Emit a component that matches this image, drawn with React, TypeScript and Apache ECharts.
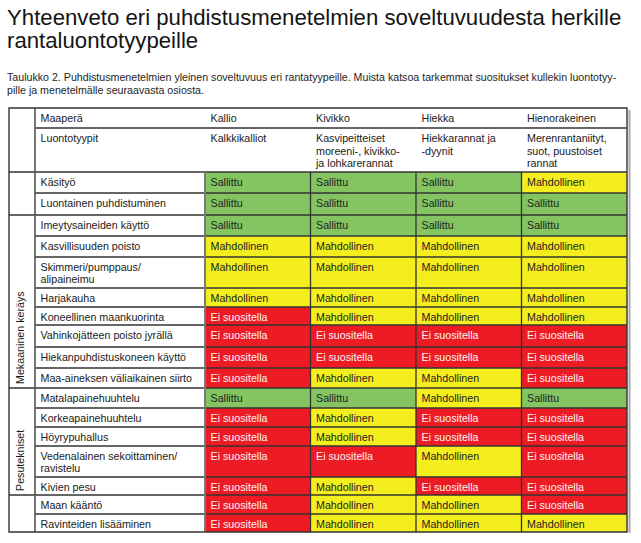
import React, { useEffect, useRef } from 'react';
import * as echarts from 'echarts';

// ---------- Data ----------
const titleLines = [
  'Yhteenveto eri puhdistusmenetelmien soveltuvuudesta herkille',
  'rantaluontotyypeille',
];
const captionLines = [
  'Taulukko 2. Puhdistusmenetelmien yleinen soveltuvuus eri rantatyypeille. Muista katsoa tarkemmat suositukset kullekin luontotyy-',
  'pille ja menetelmälle seuraavasta osiosta.',
];
const headerLabels = ['Maaperä', 'Luontotyypit'];
const soilTypes = ['Kallio', 'Kivikko', 'Hiekka', 'Hienorakeinen'];
const habitatTypes = [
  ['Kalkkikalliot'],
  ['Kasvipeitteiset', 'moreeni-, kivikko-', 'ja lohkarerannat'],
  ['Hiekkarannat ja', '-dyynit'],
  ['Merenrantaniityt,', 'suot, puustoiset', 'rannat'],
];
const methods = [
  ['Käsityö'],
  ['Luontainen puhdistuminen'],
  ['Imeytysaineiden käyttö'],
  ['Kasvillisuuden poisto'],
  ['Skimmeri/pumppaus/', 'alipaineimu'],
  ['Harjakauha'],
  ['Koneellinen maankuorinta'],
  ['Vahinkojätteen poisto jyrällä'],
  ['Hiekanpuhdistuskoneen käyttö'],
  ['Maa-aineksen väliaikainen siirto'],
  ['Matalapainehuuhtelu'],
  ['Korkeapainehuuhtelu'],
  ['Höyrypuhallus'],
  ['Vedenalainen sekoittaminen/', 'ravistelu'],
  ['Kivien pesu'],
  ['Maan kääntö'],
  ['Ravinteiden lisääminen'],
];
const groupLabels = ['', 'Mekaaninen keräys', 'Pesutekniset', ''];
const groupSizes = [2, 8, 5, 2];
const statusLabels = ['Sallittu', 'Mahdollinen', 'Ei suositella'];
// 0 = Sallittu, 1 = Mahdollinen, 2 = Ei suositella
const ratings = [
  [0, 0, 0, 1],
  [0, 0, 0, 0],
  [0, 0, 0, 0],
  [1, 1, 1, 1],
  [1, 1, 1, 1],
  [1, 1, 1, 1],
  [2, 1, 1, 1],
  [2, 2, 2, 2],
  [2, 2, 2, 2],
  [2, 1, 1, 2],
  [0, 0, 1, 0],
  [2, 1, 2, 2],
  [2, 1, 2, 2],
  [2, 2, 1, 2],
  [2, 1, 2, 2],
  [2, 1, 1, 2],
  [2, 1, 1, 1],
];

// ---------- Layout / style ----------
const W = 641;
const H = 543;
const FONT = '"Liberation Sans", Arial, Helvetica, sans-serif';
const statusColors = ['#84c562', '#f5ee1e', '#ed1c24'];
const statusTextColors = ['#222222', '#222222', '#fff2f2'];
const tableLeft = 9;
const groupRight = 35;
const labelRight = 205;
const tableRight = 627;
const tableTop = 108;
const headRow1Bottom = 128;
const headBottom = 172;
const rowHeights = [21, 22, 21, 21, 31, 19, 18, 22, 21, 20, 20, 19, 19, 31, 18, 19, 18];
const pad = 5.5;
const firstLineOffset = 10;
const lineStep = 12.6;
const lineColor = '#333333';
const cellFont = 10.7;
const titleFont = 22.2;
const captionFont = 10.65;

export default function App() {
  const ref = useRef<HTMLDivElement>(null);

  useEffect(() => {
    if (!ref.current) return;
    const chart = echarts.init(ref.current, undefined, { renderer: 'svg' });

    const bodyHeight = rowHeights.reduce((a, b) => a + b, 0);
    const rowTops: number[] = [];
    let acc = 0;
    rowHeights.forEach((h) => {
      rowTops.push(acc);
      acc += h;
    });

    const cellData: number[][] = [];
    ratings.forEach((row, r) => {
      row.forEach((s, c) => {
        cellData.push([c, rowTops[r], rowTops[r] + rowHeights[r], s]);
      });
    });

    const graphics: any[] = [];
    const txt = (x: number, y: number, text: string, size: number, fill: string, extra: any = {}) => ({
      type: 'text',
      x,
      y,
      z: 50,
      style: { text, fill, fontSize: size, fontFamily: FONT, align: 'left', verticalAlign: 'middle' },
      ...extra,
    });
    const line = (x1: number, y1: number, x2: number, y2: number, stroke: string, lw: number) => ({
      type: 'line',
      z: 100,
      shape: { x1, y1, x2, y2 },
      style: { stroke, lineWidth: lw },
    });

    // Title and caption
    titleLines.forEach((t, i) => graphics.push(txt(7, 17.5 + i * 23, t, titleFont, '#141414')));
    captionLines.forEach((t, i) => graphics.push(txt(7, 77 + i * 12.5, t, captionFont, '#1e1e1e')));

    // Header
    const colW = (tableRight - labelRight) / soilTypes.length;
    graphics.push(txt(groupRight + pad, tableTop + firstLineOffset, headerLabels[0], cellFont, '#1a1a1a'));
    graphics.push(txt(groupRight + pad, headRow1Bottom + firstLineOffset, headerLabels[1], cellFont, '#1a1a1a'));
    soilTypes.forEach((s, c) => {
      const x = labelRight + c * colW + pad;
      graphics.push(txt(x, tableTop + firstLineOffset, s, cellFont, '#1a1a1a'));
      habitatTypes[c].forEach((l, k) =>
        graphics.push(txt(x, headRow1Bottom + firstLineOffset + k * lineStep, l, cellFont, '#1a1a1a'))
      );
    });

    // Method labels
    methods.forEach((m, r) => {
      m.forEach((l, k) =>
        graphics.push(txt(groupRight + pad, headBottom + rowTops[r] + firstLineOffset - 0.5 + k * lineStep, l, cellFont, '#1a1a1a'))
      );
    });

    // Group labels (vertical) and group boundaries
    const groupBoundaries = new Set<number>();
    let gStart = 0;
    groupSizes.forEach((n, g) => {
      const gEnd = gStart + n;
      const bottomY = headBottom + (gEnd < rowTops.length ? rowTops[gEnd] : bodyHeight);
      groupBoundaries.add(gEnd);
      if (groupLabels[g]) {
        graphics.push(
          txt(19.5, bottomY - 4, groupLabels[g], cellFont, '#1a1a1a', { rotation: Math.PI / 2 })
        );
      }
      gStart = gEnd;
    });

    // Horizontal lines
    graphics.push(line(groupRight, headRow1Bottom, tableRight, headRow1Bottom, lineColor, 1.3));
    graphics.push(line(tableLeft, headBottom, tableRight, headBottom, lineColor, 1.4));
    for (let r = 1; r < rowHeights.length; r++) {
      const y = headBottom + rowTops[r];
      const x1 = groupBoundaries.has(r) ? tableLeft : groupRight;
      graphics.push(line(x1, y, tableRight, y, lineColor, 1.3));
    }
    // Vertical lines
    graphics.push(line(groupRight, tableTop, groupRight, headBottom + bodyHeight, '#555555', 1.6));
    graphics.push(line(labelRight, headBottom, labelRight, headBottom + bodyHeight, '#7a7a7a', 2));
    for (let c = 1; c < soilTypes.length; c++) {
      const x = labelRight + c * colW;
      graphics.push(line(x, headBottom, x, headBottom + bodyHeight, lineColor, 1.3));
    }
    // Outer border + right shadow
    graphics.push({
      type: 'rect',
      z: 101,
      shape: { x: tableLeft, y: tableTop, width: tableRight - tableLeft, height: headBottom + bodyHeight - tableTop },
      style: { fill: 'none', stroke: lineColor, lineWidth: 1.4 },
    });
    graphics.push(line(tableRight + 2.5, tableTop + 2, tableRight + 2.5, headBottom + bodyHeight + 1, '#a8a8a8', 2));

    chart.setOption({
      animation: false,
      backgroundColor: '#ffffff',
      grid: {
        left: labelRight,
        top: headBottom,
        width: tableRight - labelRight,
        height: bodyHeight,
        show: false,
      },
      xAxis: { type: 'value', min: 0, max: soilTypes.length, show: false },
      yAxis: { type: 'value', min: 0, max: bodyHeight, inverse: true, show: false },
      series: [
        {
          type: 'custom',
          data: cellData,
          encode: { x: 0, y: [1, 2] },
          silent: true,
          renderItem: (params: any, api: any) => {
            const c = api.value(0);
            const y0 = api.value(1);
            const y1 = api.value(2);
            const s = api.value(3);
            const p0 = api.coord([c, y0]);
            const p1 = api.coord([c + 1, y1]);
            return {
              type: 'group',
              children: [
                {
                  type: 'rect',
                  shape: { x: p0[0], y: p0[1], width: p1[0] - p0[0], height: p1[1] - p0[1] },
                  style: { fill: statusColors[s] },
                },
                {
                  type: 'text',
                  x: p0[0] + pad,
                  y: p0[1] + firstLineOffset - 0.5,
                  style: {
                    text: statusLabels[s],
                    fill: statusTextColors[s],
                    fontSize: cellFont,
                    fontFamily: FONT,
                    align: 'left',
                    verticalAlign: 'middle',
                  },
                },
              ],
            };
          },
        },
      ],
      graphic: graphics,
    });

    return () => chart.dispose();
  }, []);

  return (
    <div
      ref={ref}
      style={{ position: 'absolute', left: 0, top: 0, width: W, height: H, background: '#fff' }}
    />
  );
}
